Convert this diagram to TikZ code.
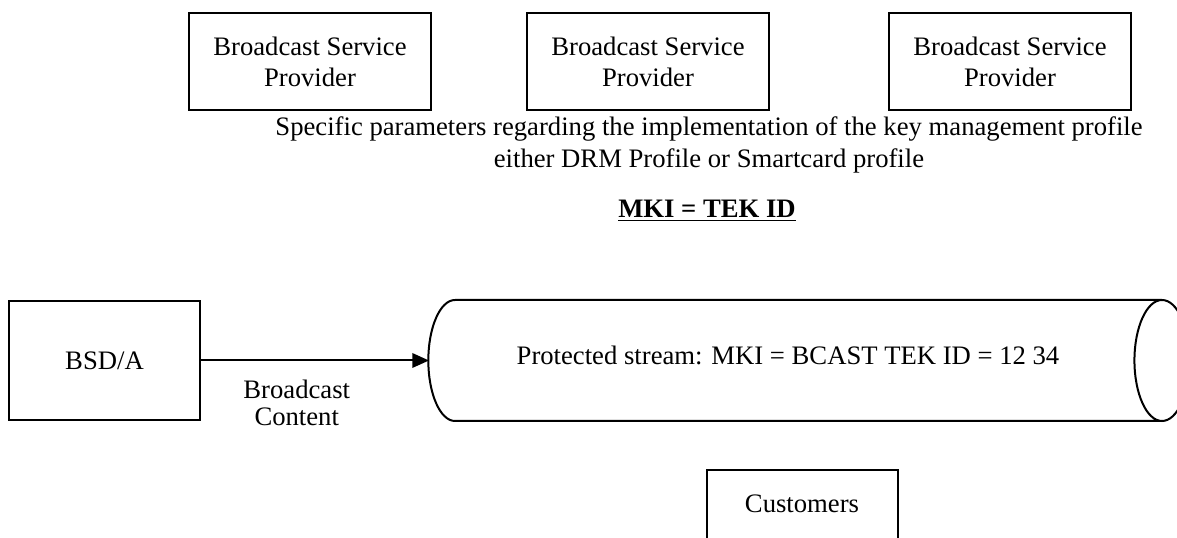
\documentclass[tikz,border=0pt]{standalone}
\usepackage{fontspec}
\setmainfont{Liberation Serif}
\usetikzlibrary{arrows.meta}

\tikzset{
  stream flow/.style={
    x=0.45pt,
    y=-0.45pt,
    every node/.style={font=\fontsize{12}{14}\selectfont, align=center},
    provider/.style={
        draw,
        line width=0.9pt,
        minimum width=108.9pt,
        minimum height=43.65pt,
        inner sep=2pt,
    },
    party/.style={
        draw,
        line width=0.9pt,
        minimum width=85.95pt,
        minimum height=53.55pt,
        inner sep=2pt,
    },
    pipe/.style={
        draw,
        line width=0.9pt,
    },
    feed/.style={
        line width=0.9pt,
        -{Triangle[length=7.5pt,width=6.5pt]},
    }
  }
}

\begin{document}
\begin{tikzpicture}[stream flow]
    \useasboundingbox (0,0) rectangle (1177,538);

    \node[provider] (bsp1) at (310,61.5) {Broadcast Service\\Provider};
    \node[provider] (bsp2) at (648,61.5) {Broadcast Service\\Provider};
    \node[provider] (bsp3) at (1010,61.5) {Broadcast Service\\Provider};

    \node (params) at (709,145)
        {Specific parameters regarding the implementation of the key management profile\\
         either DRM Profile or Smartcard profile};
    \node (mki) at (707,211) {\textbf{\underline{MKI = TEK ID}}};

    \node[party] (bsda) at (104.5,360.5) {BSD/A};

    \coordinate (streamin) at (429,360.5);
    \coordinate (streamtop) at (455,300);
    \coordinate (streamend) at (1162,360.5);
    \draw[pipe] (streamtop) arc[start angle=90, end angle=270, x radius=12pt, y radius=27.225pt]
        -- ++(707,0) (streamtop) -- ++(707,0)
        (streamend) ellipse[x radius=12.4pt, y radius=27.225pt];
    \node (stream) at (788,355) {Protected stream: MKI = BCAST TEK ID = 12 34};

    \node[party, anchor=north, inner ysep=0pt, text height=19.35pt, text depth=40pt]
        (cust) at (802,469) {Customers};

    \draw[feed] (bsda.east) -- node[pos=0.42, below, yshift=-5pt, font=\fontsize{12}{12}\selectfont]
        {Broadcast\\Content} (streamin);
\end{tikzpicture}
\end{document}
